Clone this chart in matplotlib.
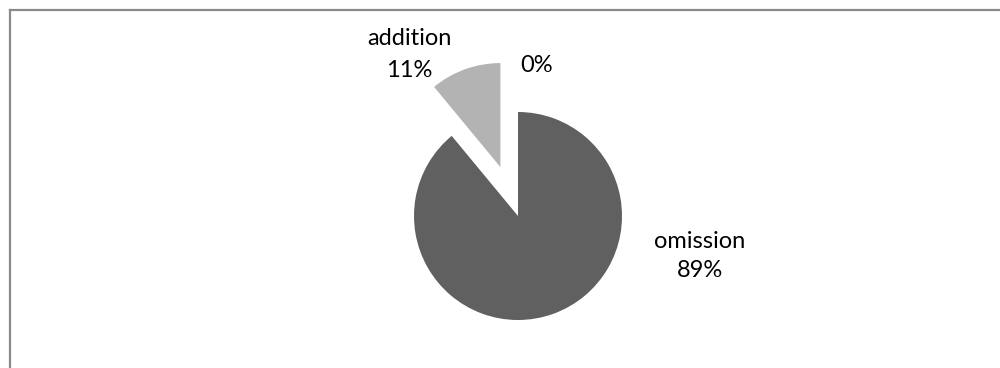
import matplotlib.pyplot as plt
from matplotlib.lines import Line2D

categories = ['omission', 'addition', '']
values = [89, 11, 0]
colors = ['#606060', '#b3b3b3', '#8a8a8a']
explode = [0, 0.5, 0]

W, H = 1000, 368
cx, cy, r = 518, 216, 104   # pie centre and radius in pixels (from top-left)


def to_data(px, py):
    return (px - cx) / r, (cy - py) / r


plt.rcParams['font.family'] = ['Lato', 'DejaVu Sans']

fig = plt.figure(figsize=(W / 100, H / 100), dpi=100)
ax = fig.add_axes([0, 0, 1, 1])

ax.pie(values, colors=colors, explode=explode, startangle=90,
       counterclock=False, radius=1, wedgeprops={'linewidth': 0})
ax.set_xlim(-cx / r, (W - cx) / r)
ax.set_ylim(-(H - cy) / r, cy / r)
ax.axis('off')

# data labels (name on first line, percentage below)
total = sum(values)
label_pos = {
    'omission': (700, 248, 277),
    'addition': (409, 45, 77),
    '': (537, None, 72),
}
for cat, v in zip(categories, values):
    x, y_name, y_pct = label_pos[cat]
    pct = f'{round(100 * v / total)}%'
    if cat:
        ax.text(*to_data(x, y_name), cat, ha='center', va='baseline',
                fontsize=17, color='#000000')
    ax.text(*to_data(x, y_pct), pct, ha='center', va='baseline',
            fontsize=17, color='#000000')

# chart-area border (right and bottom edges fall outside the image)
border = '#8a8a8a'
fig.add_artist(Line2D([10 / W, 10 / W], [0, 1 - 10 / H], color=border,
                      lw=1.6, transform=fig.transFigure))
fig.add_artist(Line2D([10 / W, 1], [1 - 10 / H, 1 - 10 / H], color=border,
                      lw=1.6, transform=fig.transFigure))

fig.savefig('out.png', dpi=100)
